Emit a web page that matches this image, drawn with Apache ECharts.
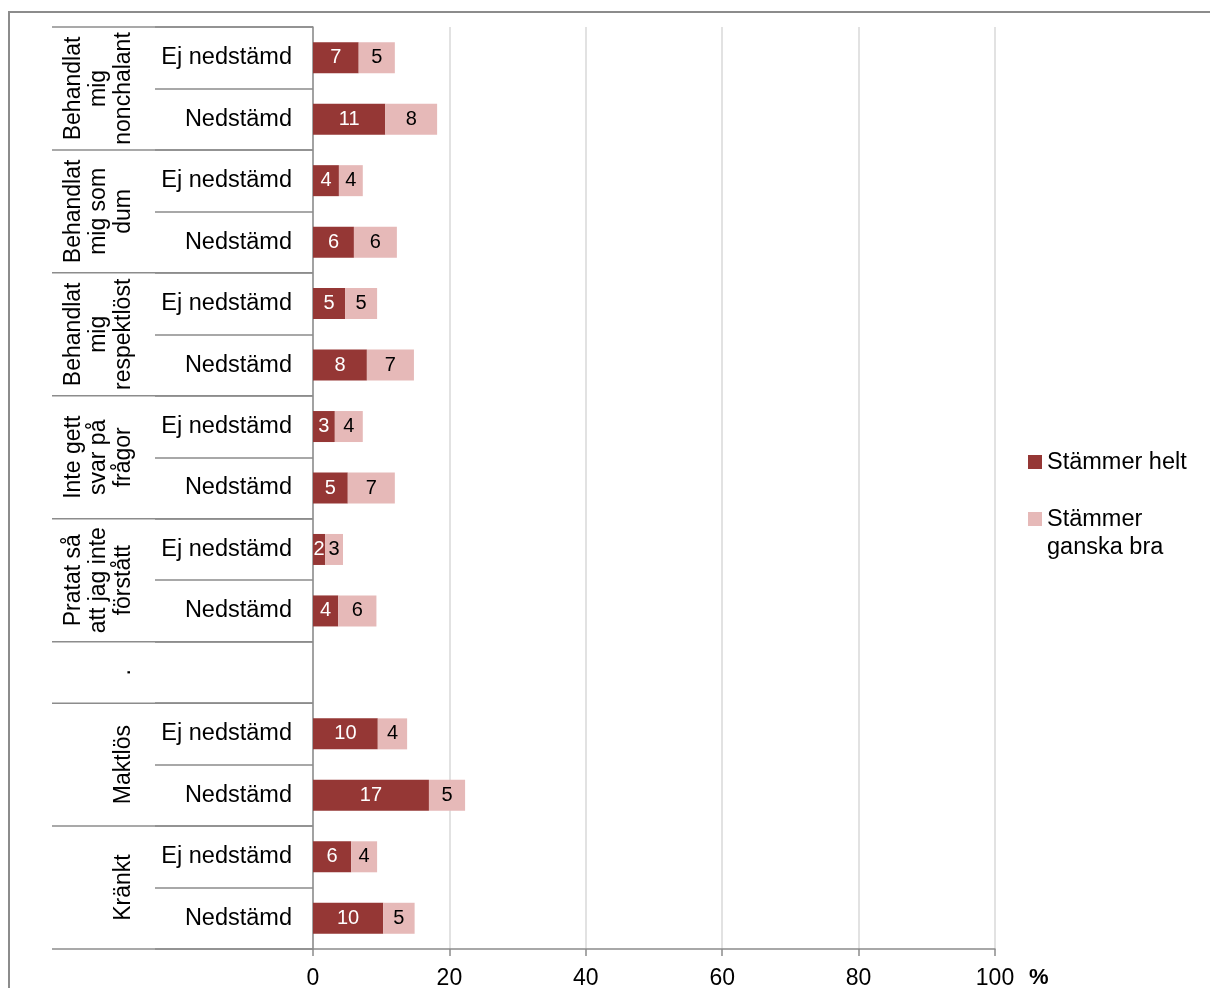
<!DOCTYPE html>
<html>
<head>
<meta charset="utf-8">
<script src="https://cdn.jsdelivr.net/npm/echarts@6/dist/echarts.min.js"></script>
<style>
  html, body { margin: 0; padding: 0; background: #fff; }
  #chart { width: 1210px; height: 988px; }
</style>
</head>
<body>
<div id="chart"></div>
<script>
// Group headings (rotated, left column) and how many rows each one spans
const groupLabels = [
  'Behandlat\nmig\nnonchalant',
  'Behandlat\nmig som\ndum',
  'Behandlat\nmig\nrespektlöst',
  'Inte gett\nsvar på\nfrågor',
  'Pratat så\natt jag inte\nförstått',
  '.',
  'Maktlös',
  'Kränkt'
];
const groupSizes = [2, 2, 2, 2, 2, 1, 2, 2];

// Row labels (inner column)
const rowLabels = [
  'Ej nedstämd', 'Nedstämd',
  'Ej nedstämd', 'Nedstämd',
  'Ej nedstämd', 'Nedstämd',
  'Ej nedstämd', 'Nedstämd',
  'Ej nedstämd', 'Nedstämd',
  '',
  'Ej nedstämd', 'Nedstämd',
  'Ej nedstämd', 'Nedstämd'
];

// Percentages
const stammerHelt   = [6.7, 10.6, 3.8, 6.0, 4.7, 7.9, 3.2, 5.1, 1.8, 3.7, null, 9.5, 17.0, 5.6, 10.3];
const stammerGanska = [5.3, 7.6, 3.5, 6.3, 4.7, 6.9, 4.1, 6.9, 2.6, 5.6, null, 4.3, 5.3, 3.8, 4.6];

const seriesNames = ['Stämmer helt', 'Stämmer\nganska bra'];
const xTicks = { min: 0, max: 100, interval: 20 };

const colors = ['#953735', '#E6B9B8'];
const lineGrey = '#8c8c8c';
const fontFamily = '"Liberation Sans", Arial, sans-serif';
const textSize = 23.5;

const chart = echarts.init(document.getElementById('chart'), null, { renderer: 'canvas' });

const labelFmt = p => (p.value == null ? '' : String(Math.round(p.value)));

chart.setOption({
  animation: false,
  textStyle: { fontFamily: fontFamily },
  grid: { left: 313, right: 215, top: 27, bottom: 39, containLabel: false, outerBoundsMode: 'none' },
  xAxis: {
    type: 'value',
    min: xTicks.min, max: xTicks.max, interval: xTicks.interval,
    name: '%',
    nameLocation: 'end',
    nameGap: 34,
    nameTextStyle: { fontSize: 22, fontWeight: 'bold', color: '#000', verticalAlign: 'top', padding: [18, 0, 0, 0] },
    axisLine: { show: true, lineStyle: { color: lineGrey, width: 1.5 } },
    axisTick: { show: true, length: 7, lineStyle: { color: lineGrey, width: 1.5 } },
    axisLabel: { fontSize: 23, color: '#000', margin: 18 },
    splitLine: { show: true, lineStyle: { color: '#d9d9d9', width: 1.5 } }
  },
  yAxis: {
    type: 'category',
    inverse: true,
    data: rowLabels,
    axisLine: { show: true, lineStyle: { color: lineGrey, width: 1.5 } },
    axisTick: { show: true, length: 158, lineStyle: { color: lineGrey, width: 1.5 } },
    axisLabel: { fontSize: textSize, color: '#000', margin: 21 },
    splitLine: { show: false }
  },
  series: [
    {
      name: seriesNames[0], type: 'bar', stack: 'total', data: stammerHelt,
      barWidth: 31,
      itemStyle: { color: colors[0] },
      label: { show: true, position: 'inside', color: '#fff', fontSize: 20, formatter: labelFmt }
    },
    {
      name: seriesNames[1], type: 'bar', stack: 'total', data: stammerGanska,
      barWidth: 31,
      itemStyle: { color: colors[1] },
      label: { show: true, position: 'inside', color: '#000', fontSize: 20, formatter: labelFmt }
    }
  ]
});

// Separators, group headings, legend and frame, placed from the axis scales
const ys = rowLabels.map((_, i) => chart.convertToPixel({ yAxisIndex: 0 }, i));
const step = ys[1] - ys[0];
const boundary = i => (i < ys.length ? ys[i] - step / 2 : ys[ys.length - 1] + step / 2);
const axisX = chart.convertToPixel({ xAxisIndex: 0 }, 0);
const groupLeft = 52;

const graphics = [];

// outer frame
graphics.push({
  type: 'rect', silent: true,
  shape: { x: 9, y: 12, width: 1220, height: 1000 },
  style: { fill: 'none', stroke: lineGrey, lineWidth: 2 }
});

let start = 0;
groupLabels.forEach((g, gi) => {
  const end = start + groupSizes[gi];
  const yTop = boundary(start), yBot = boundary(end);
  graphics.push({
    type: 'line', silent: true,
    shape: { x1: groupLeft, y1: yTop, x2: axisX, y2: yTop },
    style: { stroke: lineGrey, lineWidth: 1.5 }
  });
  if (gi === groupLabels.length - 1) {
    graphics.push({
      type: 'line', silent: true,
      shape: { x1: groupLeft, y1: yBot, x2: axisX, y2: yBot },
      style: { stroke: lineGrey, lineWidth: 1.5 }
    });
  }
  graphics.push({
    type: 'text', silent: true,
    x: 136, y: (yTop + yBot) / 2,
    rotation: Math.PI / 2,
    style: {
      text: g, fill: '#000', font: '23px ' + fontFamily,
      align: 'center', verticalAlign: 'bottom', lineHeight: 25
    }
  });
  start = end;
});

// legend
const legendX = 1028;
const legendItems = [
  { y: 462, name: seriesNames[0], color: colors[0] },
  { y: 519, name: seriesNames[1], color: colors[1] }
];
legendItems.forEach(it => {
  graphics.push({
    type: 'rect', silent: true,
    shape: { x: legendX, y: it.y - 7, width: 14, height: 14 },
    style: { fill: it.color }
  });
  graphics.push({
    type: 'text', silent: true,
    x: legendX + 19, y: it.y - 13,
    style: {
      text: it.name, fill: '#000', font: textSize + 'px ' + fontFamily,
      align: 'left', verticalAlign: 'top', lineHeight: 28
    }
  });
});

chart.setOption({ graphic: graphics });
</script>
</body>
</html>
